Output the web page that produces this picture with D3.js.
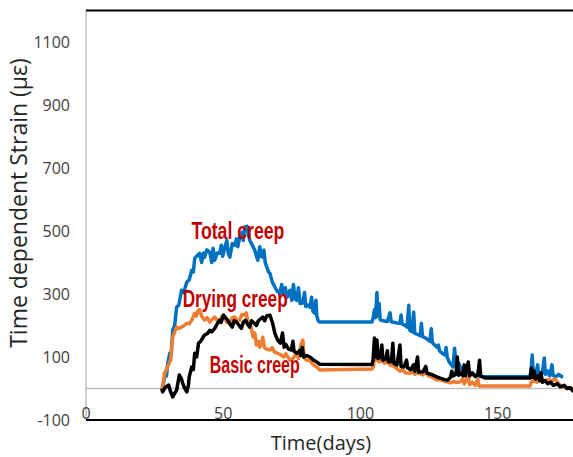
<!DOCTYPE html>
<html>
<head>
<meta charset="utf-8">
<script src="https://cdn.jsdelivr.net/npm/d3@7"></script>
<style>
  body { margin: 0; background: #fff; }
  svg { display: block; }
  .tick-label { font-family: 'Open Sans', sans-serif; font-size: 16px; fill: #404040; }
  .axis-title { font-family: 'Open Sans', sans-serif; font-size: 20px; fill: #262626; }
  .annot { font-family: 'Liberation Sans', Arial, sans-serif; font-weight: bold; font-size: 23px; fill: #c00000; }
</style>
</head>
<body>
<svg id="chart" width="573" height="457"></svg>
<script>
// [time (days), strain (microstrain)]
const totalCreep = [
  [28.0, 0], [28.5, 20], [29.0, 45], [29.5, 40], [30.0, 80], [30.7, 112], [31.2, 105], [31.8, 185],
  [32.5, 200], [33.2, 258], [34.0, 265], [35.0, 312], [35.8, 305], [36.9, 337], [37.8, 345], [38.7, 375],
  [39.3, 370], [39.8, 413], [40.5, 420], [41.6, 429], [42.3, 400], [43.0, 430], [43.4, 417], [44.2, 440],
  [45.3, 432], [46.0, 400], [46.5, 445], [47.1, 407], [48.0, 430], [48.9, 429], [49.5, 455], [50.0, 420],
  [50.7, 445], [51.5, 470], [52.0, 430], [52.6, 417], [53.5, 460], [54.4, 455], [55.0, 475], [55.5, 450],
  [56.2, 480], [57.0, 495], [57.5, 470], [58.0, 512], [58.8, 515], [59.3, 490], [59.9, 470], [60.8, 455],
  [61.7, 439], [62.3, 420], [62.8, 407], [63.5, 450], [64.0, 420], [64.6, 417], [65.0, 440], [65.5, 400],
  [66.1, 385], [66.7, 370], [67.2, 366], [68.0, 340], [69.0, 322], [69.8, 310], [70.8, 302], [71.5, 330],
  [72.0, 300], [72.8, 320], [73.5, 290], [74.5, 312], [75.2, 280], [75.8, 330], [76.3, 285], [77.0, 280],
  [77.6, 320], [78.2, 270], [79.2, 271], [79.8, 305], [80.3, 260], [81.0, 265], [81.8, 258], [82.4, 290],
  [82.9, 245], [83.5, 239], [84.0, 280], [84.3, 230], [84.8, 215], [85.4, 211], [104.4, 211], [104.8, 222],
  [105.3, 250], [105.7, 225], [106.2, 305], [106.6, 230], [107.0, 270], [107.4, 218], [108.5, 215], [110.0, 213],
  [111.0, 240], [111.4, 212], [112.5, 210], [113.5, 208], [114.6, 207], [115.0, 233], [115.4, 205], [116.5, 200],
  [117.2, 195], [117.8, 264], [118.2, 185], [119.0, 180], [119.6, 242], [120.0, 175], [121.0, 172], [122.0, 168],
  [122.4, 207], [122.8, 165], [124.0, 160], [125.5, 150], [126.0, 190], [126.4, 145], [128.1, 131], [128.6, 138],
  [129.0, 120], [130.0, 112], [131.0, 106], [131.4, 130], [131.8, 100], [132.5, 85], [133.9, 68], [134.5, 128],
  [135.0, 75], [136.0, 80], [137.0, 60], [138.0, 55], [139.0, 50], [140.0, 48], [141.0, 45], [142.0, 42],
  [143.0, 40], [144.0, 38], [145.6, 37], [162.0, 37], [162.4, 60], [162.8, 106], [163.2, 50], [164.0, 45],
  [164.8, 75], [165.2, 40], [166.5, 50], [167.2, 97], [167.6, 45], [168.5, 55], [169.2, 40], [170.0, 75],
  [170.4, 42], [171.5, 38], [172.5, 45], [173.5, 38], [174.1, 37]
];

const dryingCreep = [
  [28.0, 0], [28.8, 49], [29.5, 60], [30.2, 75], [31.0, 90], [31.8, 163], [32.5, 180], [33.2, 195],
  [34.0, 190], [35.0, 195], [36.0, 200], [36.9, 207], [37.8, 205], [38.7, 217], [39.8, 239], [40.4, 230],
  [41.0, 248], [41.6, 250], [42.3, 230], [43.4, 217], [44.3, 225], [45.3, 211], [46.2, 220], [47.1, 227],
  [48.0, 215], [48.9, 217], [49.8, 230], [50.7, 227], [51.5, 210], [52.6, 207], [53.5, 225], [54.4, 227],
  [55.3, 215], [56.2, 217], [57.0, 235], [58.0, 233], [58.6, 240], [59.2, 210], [59.9, 207], [60.6, 185],
  [61.1, 163], [61.7, 176], [62.3, 138], [63.0, 150], [63.5, 131], [64.0, 140], [64.6, 163], [65.2, 130],
  [66.0, 125], [67.2, 122], [68.0, 130], [69.0, 115], [70.0, 112], [71.0, 108], [72.3, 100], [73.0, 110],
  [74.5, 90], [75.5, 95], [77.0, 112], [77.6, 95], [78.5, 140], [79.2, 154], [79.6, 100], [80.5, 90],
  [81.8, 90], [82.5, 80], [83.5, 72], [84.3, 68], [85.4, 59], [104.4, 62], [105.0, 70], [105.5, 154],
  [105.9, 90], [106.5, 130], [107.0, 84], [108.0, 90], [109.0, 80], [110.0, 85], [111.0, 75], [112.5, 70],
  [114.6, 55], [115.5, 60], [116.5, 50], [118.2, 48], [119.0, 55], [120.0, 45], [121.0, 50], [123.0, 43],
  [124.0, 55], [125.0, 40], [126.5, 35], [128.1, 27], [129.0, 30], [130.0, 25], [131.8, 21], [133.0, 18],
  [134.0, 22], [135.0, 20], [136.5, 21], [137.5, 30], [138.0, 15], [139.5, 37], [140.0, 12], [141.0, 20],
  [142.0, 10], [143.0, 30], [143.4, 8], [145.0, 8], [162.0, 8], [162.5, 21], [163.5, 25], [164.5, 20],
  [166.0, 27], [167.0, 22], [168.5, 28], [170.0, 25], [171.0, 30], [172.0, 20], [173.0, 10], [174.0, 5],
  [176.0, 2], [178.0, 0]
];

const basicCreep = [
  [27.8, 0], [28.1, -11], [29.2, 5], [30.3, 11], [31.0, -10], [31.8, -27], [32.5, -15], [33.2, -5],
  [34.2, 43], [35.0, 30], [35.4, 17], [36.2, 0], [36.9, -11], [37.5, 10], [37.8, 37], [38.7, 68],
  [39.3, 60], [39.8, 112], [40.5, 100], [41.2, 144], [42.0, 150], [43.0, 165], [43.4, 170], [44.5, 175],
  [45.3, 185], [46.0, 180], [47.1, 191], [48.0, 205], [48.9, 217], [49.4, 210], [50.3, 233], [51.0, 225],
  [51.8, 217], [52.6, 205], [53.5, 195], [54.2, 215], [55.0, 211], [56.0, 200], [56.8, 191], [57.5, 210],
  [58.3, 217], [59.0, 205], [59.8, 195], [60.5, 215], [61.5, 207], [62.3, 200], [63.0, 215], [64.6, 227],
  [65.3, 215], [66.0, 230], [67.2, 233], [68.2, 207], [69.0, 176], [70.0, 154], [71.0, 144], [71.8, 176],
  [72.4, 131], [73.0, 140], [74.0, 125], [75.0, 122], [75.6, 150], [76.0, 118], [77.0, 112], [78.0, 120],
  [78.5, 105], [79.0, 130], [79.5, 100], [80.5, 105], [81.8, 100], [82.5, 95], [83.5, 88], [84.3, 84],
  [85.4, 77], [104.4, 76], [104.8, 90], [105.3, 160], [105.7, 100], [106.2, 154], [106.6, 95], [107.5, 100],
  [108.0, 138], [108.4, 90], [109.5, 95], [110.0, 120], [110.4, 85], [111.5, 85], [112.0, 144], [112.4, 80],
  [113.5, 75], [114.6, 138], [115.0, 70], [116.0, 68], [117.0, 90], [117.4, 65], [118.5, 60], [119.5, 75],
  [120.0, 55], [121.0, 100], [121.4, 52], [123.0, 53], [124.0, 70], [124.5, 48], [126.0, 45], [128.1, 37],
  [129.5, 32], [131.0, 28], [132.0, 27], [133.0, 35], [133.5, 55], [134.0, 40], [135.0, 45], [135.5, 100],
  [136.0, 42], [137.0, 50], [137.5, 40], [138.0, 75], [138.4, 40], [139.5, 84], [140.0, 40], [141.0, 50],
  [142.0, 38], [143.0, 45], [143.6, 90], [144.0, 40], [145.0, 36], [145.6, 33], [162.0, 33], [162.5, 65],
  [163.0, 35], [163.5, 55], [164.0, 30], [165.0, 40], [165.5, 25], [166.0, 50], [166.5, 20], [167.5, 25],
  [168.5, 15], [169.5, 20], [170.5, 10], [172.0, 15], [173.0, 5], [174.5, 10], [175.5, 0], [176.5, 3],
  [177.7, -8], [178.5, -8]
];

const yTicks = [-100, 100, 300, 500, 700, 900, 1100];
const xTicks = [0, 50, 100, 150];

const seriesList = [
  { name: 'Total creep', data: totalCreep, color: '#0070c0' },
  { name: 'Drying creep', data: dryingCreep, color: '#ed7d31' },
  { name: 'Basic creep', data: basicCreep, color: '#000000' }
];

// label text, time, strain (anchor at start of text)
const annotations = [
  { text: 'Total creep', t: 38.6, v: 475, len: 93 },
  { text: 'Drying creep', t: 35.4, v: 260, len: 105 },
  { text: 'Basic creep', t: 45.3, v: 50, len: 90 }
];

const plot = { left: 86, right: 573, top: 10.5, bottom: 420 };

const svg = d3.select('#chart');

const xScale = d3.scaleLinear().domain([0, 180]).range([85.5, 85.5 + 180 * 2.744]);
const yScale = d3.scaleLinear().domain([-100, 1200]).range([plot.bottom, plot.top]);

svg.append('defs').append('clipPath').attr('id', 'plot-clip')
  .append('rect')
  .attr('x', plot.left)
  .attr('y', 0)
  .attr('width', plot.right - plot.left)
  .attr('height', plot.bottom + 2);

// zero line
svg.append('line')
  .attr('x1', plot.left).attr('x2', plot.right)
  .attr('y1', yScale(0)).attr('y2', yScale(0))
  .attr('stroke', '#bfbfbf').attr('stroke-width', 1.5);

// left axis line
svg.append('line')
  .attr('x1', plot.left).attr('x2', plot.left)
  .attr('y1', plot.top).attr('y2', plot.bottom)
  .attr('stroke', '#bfbfbf').attr('stroke-width', 1.5);

// top border
svg.append('line')
  .attr('x1', plot.left).attr('x2', plot.right)
  .attr('y1', plot.top).attr('y2', plot.top)
  .attr('stroke', '#000').attr('stroke-width', 2);

// y tick labels
var yAxis = d3.axisLeft(yScale).tickValues(yTicks).tickSize(0).tickPadding(0)
  .tickFormat((d) => String(d));
var gy = svg.append('g').attr('transform', 'translate(70,0)').call(yAxis);
gy.select('.domain').remove();
gy.selectAll('text')
  .attr('class', 'tick-label')
  .attr('dy', '0.35em')
  .attr('font-size', null).attr('font-family', null).attr('fill', null);

// x tick labels (sit just above the bottom line)
var xAxis = d3.axisBottom(xScale).tickValues(xTicks).tickSize(0).tickPadding(0)
  .tickFormat((d) => String(d));
var gx = svg.append('g').attr('transform', 'translate(0,' + plot.bottom + ')').call(xAxis);
gx.select('.domain').remove();
gx.selectAll('text')
  .attr('class', 'tick-label')
  .attr('y', -1)
  .attr('dy', 0)
  .attr('font-size', null).attr('font-family', null).attr('fill', null);

// lines
var line = d3.line()
  .x((d) => xScale(d[0]))
  .y((d) => yScale(d[1]));

var lines = svg.append('g').attr('clip-path', 'url(#plot-clip)');
lines.selectAll('path')
  .data(seriesList)
  .enter()
  .append('path')
  .attr('d', (d) => line(d.data))
  .attr('fill', 'none')
  .attr('stroke', (d) => d.color)
  .attr('stroke-width', 3.5)
  .attr('stroke-linejoin', 'round');

// bottom border
svg.append('line')
  .attr('x1', plot.left).attr('x2', plot.right)
  .attr('y1', plot.bottom).attr('y2', plot.bottom)
  .attr('stroke', '#000').attr('stroke-width', 2);

// annotations
svg.selectAll('.annot')
  .data(annotations)
  .enter()
  .append('text')
  .attr('class', 'annot')
  .attr('x', (d) => xScale(d.t))
  .attr('y', (d) => yScale(d.v))
  .attr('textLength', (d) => d.len)
  .attr('lengthAdjust', 'spacingAndGlyphs')
  .text((d) => d.text);

// axis titles
svg.append('text')
  .attr('class', 'axis-title')
  .attr('text-anchor', 'middle')
  .attr('font-size', '23px')
  .style('font-size', '23px')
  .attr('transform', 'translate(27,203) rotate(-90)')
  .text('Time dependent Strain (με)');

svg.append('text')
  .attr('class', 'axis-title')
  .attr('text-anchor', 'middle')
  .attr('x', 321)
  .attr('y', 450)
  .text('Time(days)');
</script>
</body>
</html>
